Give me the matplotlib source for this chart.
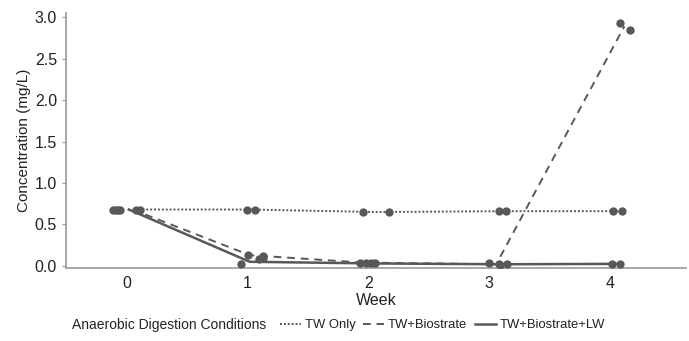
import matplotlib
matplotlib.use("Agg")
import matplotlib.pyplot as plt
from matplotlib.lines import Line2D
import numpy as np

plt.rcParams['font.family'] = ['Liberation Sans', 'DejaVu Sans']

weeks = [0, 1, 2, 3, 4]
week_labels = ["0", "1", "2", "3", "4"]
series_names = ["TW Only", "TW+Biostrate", "TW+Biostrate+LW"]

# individual replicate points (dodged/jittered x position as read, concentration)
tw_only_x = [0.08, 0.11, 1.00, 1.06, 1.96, 2.17, 3.08, 3.14, 4.03, 4.10]
tw_only_y = [0.68, 0.68, 0.68, 0.68, 0.65, 0.65, 0.66, 0.66, 0.66, 0.66]

tw_bio_x = [-0.09, -0.05, 1.01, 1.13, 1.13, 1.93, 1.98, 3.00, 3.08, 4.08, 4.17]
tw_bio_y = [0.68, 0.68, 0.13, 0.12, 0.09, 0.04, 0.035, 0.03, 0.02, 2.93, 2.84]

tw_bio_lw_x = [-0.11, -0.07, 0.95, 1.10, 2.02, 2.06, 3.09, 3.15, 4.02, 4.08]
tw_bio_lw_y = [0.68, 0.68, 0.02, 0.08, 0.03, 0.03, 0.015, 0.02, 0.025, 0.025]

# line vertices (group means at dodged positions)
tw_only_line_x = [0.10, 1.03, 2.06, 3.11, 4.07]
tw_only_line_y = [0.68, 0.68, 0.65, 0.66, 0.66]
tw_bio_line_x = [0.05, 1.02, 1.96, 3.06, 4.12]
tw_bio_line_y = [0.68, 0.13, 0.04, 0.02, 2.89]
tw_bio_lw_line_x = [0.02, 1.02, 2.04, 3.12, 4.05]
tw_bio_lw_line_y = [0.68, 0.05, 0.03, 0.02, 0.025]

col = "#585858"
styles = [(0, (1, 1)), (0, (4, 3)), "-"]
lws = [1.4, 1.4, 1.8]

fig = plt.figure(figsize=(6.89, 3.41), dpi=100)
ax = fig.add_axes([66/689, 1-268/341, (686-66)/689, (268-13)/341])

lines = [(tw_only_line_x, tw_only_line_y), (tw_bio_line_x, tw_bio_line_y), (tw_bio_lw_line_x, tw_bio_lw_line_y)]
pts = [(tw_only_x, tw_only_y), (tw_bio_x, tw_bio_y), (tw_bio_lw_x, tw_bio_lw_y)]
for (lx, ly), ls, lw in zip(lines, styles, lws):
    ax.plot(lx, ly, color=col, linestyle=ls, lw=lw, zorder=2)
for px, py in pts:
    ax.plot(px, py, 'o', color=col, ms=6, mec='none', zorder=3)

ax.set_xlim(-0.5, 4.63)
ax.set_ylim(-0.025, 3.05)
ax.set_xticks(weeks)
ax.set_xticklabels(week_labels)
ax.set_yticks([0, 0.5, 1.0, 1.5, 2.0, 2.5, 3.0])
ax.set_yticklabels(["0.0", "0.5", "1.0", "1.5", "2.0", "2.5", "3.0"])
for s in ['top', 'right']:
    ax.spines[s].set_visible(False)
for s in ['left', 'bottom']:
    ax.spines[s].set_color("#9a9a9a")
    ax.spines[s].set_linewidth(1.2)
ax.tick_params(axis='both', colors="#9a9a9a", labelcolor="#222222", labelsize=11.5, length=3)
ax.tick_params(axis='x', length=0, pad=6)
ax.set_xlabel("Week", fontsize=11.5, color="#222222", labelpad=1)
ax.set_ylabel("Concentration (mg/L)", fontsize=11, color="#222222", labelpad=3)

fig.text(72/689, 1-325/341, "Anaerobic Digestion Conditions", fontsize=10, color="#222222", va='center', ha='left')
handles = [Line2D([], [], color=col, linestyle=ls, lw=lw) for ls, lw in zip(styles, lws)]
fig.legend(handles, series_names, loc='center left', bbox_to_anchor=(280/689, 1-325/341), ncol=3,
           frameon=False, fontsize=9.4, handlelength=1.6, handletextpad=0.3, columnspacing=0.6,
           borderpad=0, borderaxespad=0, labelcolor="#222222")

fig.savefig("out.png", dpi=100)
